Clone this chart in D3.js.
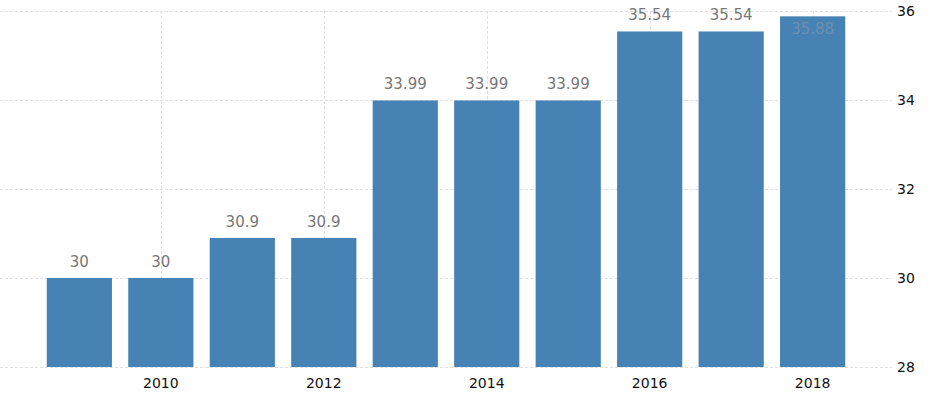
<!DOCTYPE html>
<html>
<head>
<meta charset="utf-8">
<script src="https://cdn.jsdelivr.net/npm/d3@7"></script>
<style>
  body { margin: 0; background: #fff; }
  svg { display: block; font-family: "DejaVu Sans", Verdana, sans-serif; }
</style>
</head>
<body>
<div id="chart"></div>
<script>
// chart data
const years = [2009, 2010, 2011, 2012, 2013, 2014, 2015, 2016, 2017, 2018];
const values = [30, 30, 30.9, 30.9, 33.99, 33.99, 33.99, 35.54, 35.54, 35.88];
const xTickYears = [2010, 2012, 2014, 2016, 2018];
const yTicks = [28, 30, 32, 34, 36];

const width = 935;
const height = 396;
const plot = { left: 0, right: 892, top: 11, bottom: 367 };

const svg = d3.select('#chart')
  .append('svg')
  .attr('width', width)
  .attr('height', height);

const x = d3.scaleBand()
  .domain(years)
  .range([plot.left, plot.right])
  .paddingInner(0.2)
  .paddingOuter(0.574);

const y = d3.scaleLinear()
  .domain([28, 36])
  .range([plot.bottom, plot.top]);

// horizontal grid
svg.append('g')
  .selectAll('line')
  .data(yTicks)
  .join('line')
  .attr('x1', plot.left)
  .attr('x2', plot.right)
  .attr('y1', d => Math.round(y(d)) + 0.5)
  .attr('y2', d => Math.round(y(d)) + 0.5)
  .attr('stroke', '#e0e0e0')
  .attr('stroke-dasharray', '3,2');

// vertical grid
svg.append('g')
  .selectAll('line')
  .data(xTickYears)
  .join('line')
  .attr('x1', d => Math.round(x(d) + x.bandwidth() / 2) + 0.5)
  .attr('x2', d => Math.round(x(d) + x.bandwidth() / 2) + 0.5)
  .attr('y1', plot.top)
  .attr('y2', plot.bottom)
  .attr('stroke', '#e0e0e0')
  .attr('stroke-dasharray', '3,2');

// bars
svg.append('g')
  .selectAll('rect')
  .data(values)
  .join('rect')
  .attr('x', (d, i) => x(years[i]))
  .attr('width', x.bandwidth())
  .attr('y', d => y(d))
  .attr('height', d => y(28) - y(d))
  .attr('fill', '#4682b4');

// value labels (inside the bar when there is no room above)
svg.append('g')
  .selectAll('text')
  .data(values)
  .join('text')
  .attr('x', (d, i) => x(years[i]) + x.bandwidth() / 2)
  .attr('y', d => (y(d) - 11 < plot.top + 4 ? y(d) + 18 : y(d) - 11))
  .attr('text-anchor', 'middle')
  .attr('font-size', 15)
  .attr('fill', d => (y(d) - 11 < plot.top + 4 ? '#6f8fae' : '#777'))
  .text(d => d);

// x axis labels
svg.append('g')
  .selectAll('text')
  .data(xTickYears)
  .join('text')
  .attr('x', d => x(d) + x.bandwidth() / 2)
  .attr('y', 388)
  .attr('text-anchor', 'middle')
  .attr('font-size', 14)
  .attr('fill', '#111')
  .text(d => d);

// y axis labels (right side)
svg.append('g')
  .selectAll('text')
  .data(yTicks)
  .join('text')
  .attr('x', 897)
  .attr('y', d => y(d) + 5)
  .attr('font-size', 14)
  .attr('fill', '#111')
  .text(d => d);
</script>
</body>
</html>
